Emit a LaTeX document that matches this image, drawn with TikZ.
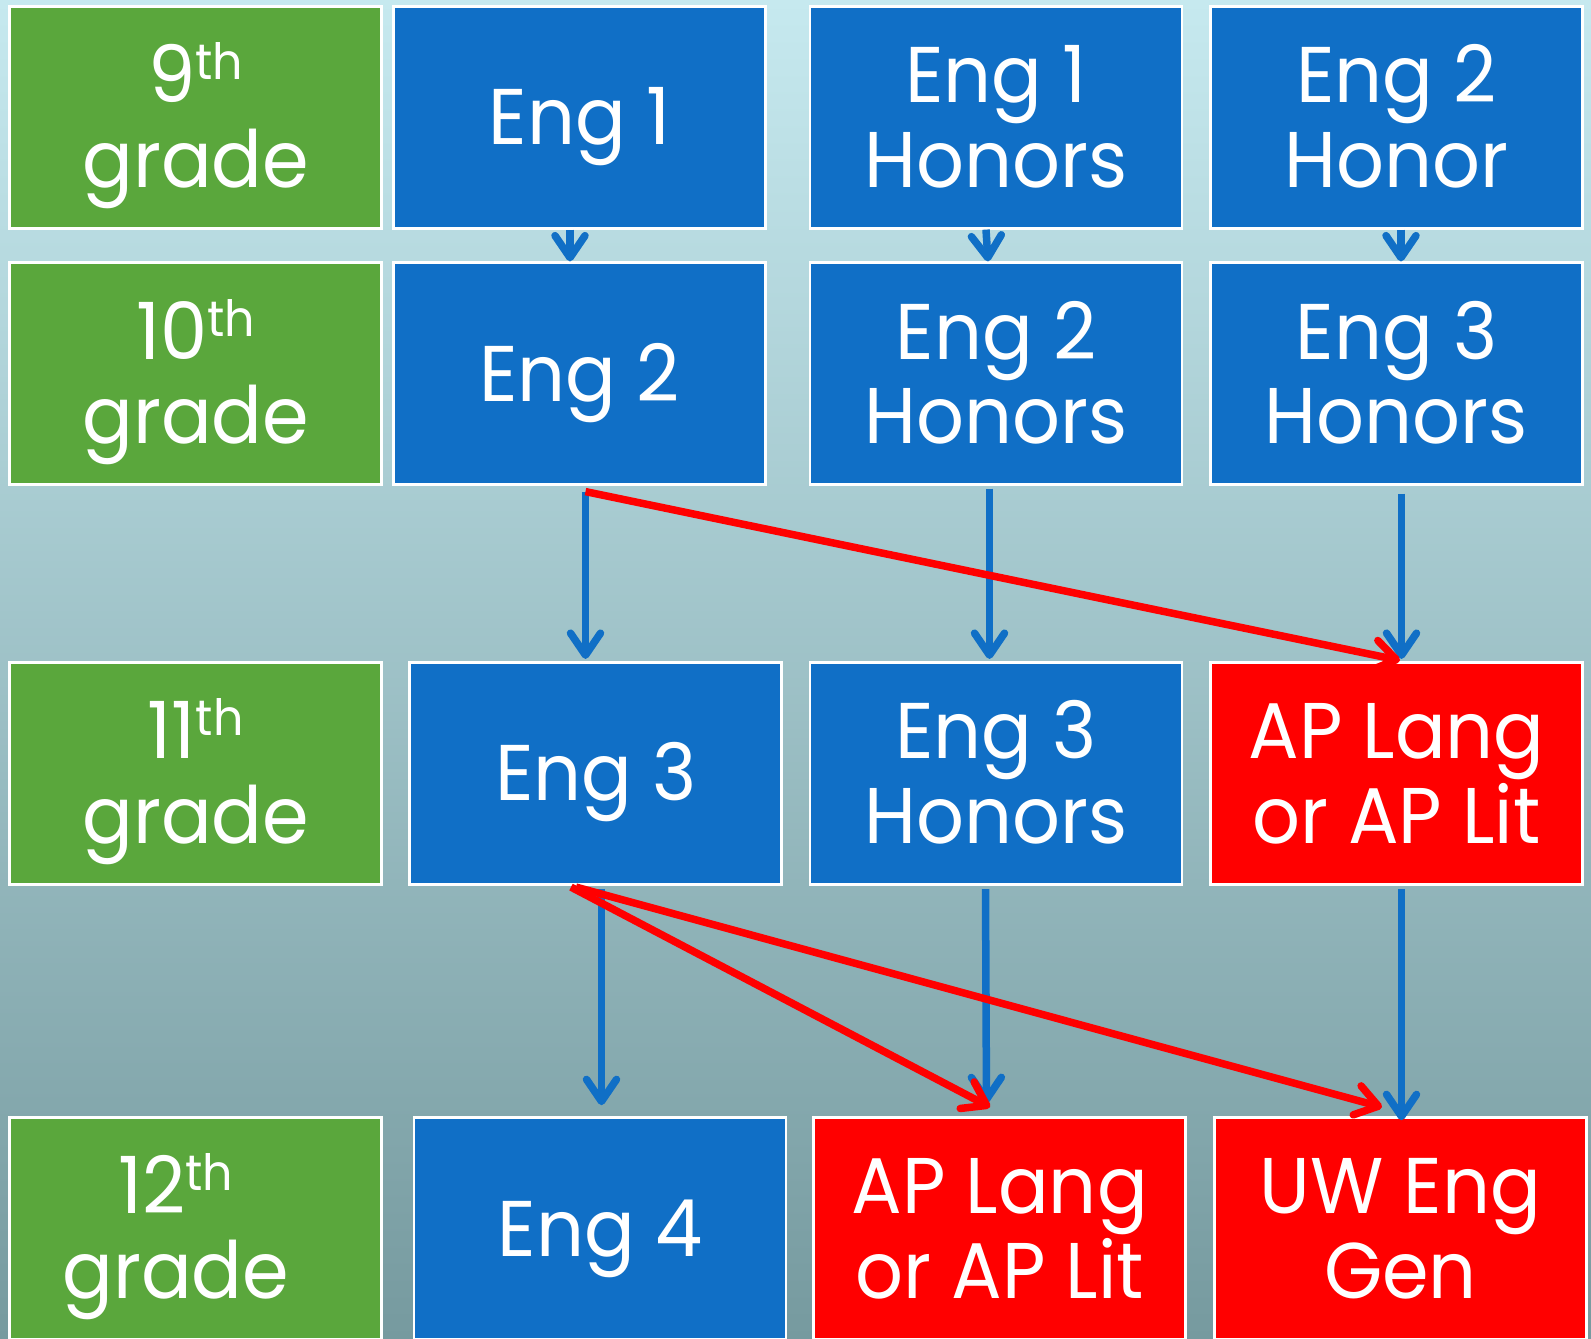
\documentclass[tikz,border=0pt]{standalone}
\usepackage{fontspec}
\setmainfont{Poppins}[FakeStretch=0.95]
\usetikzlibrary{arrows.meta}
\definecolor{bgtop}{RGB}{198,233,239}
\definecolor{bgmid}{RGB}{148,185,191}
\definecolor{bgbot}{RGB}{118,154,159}
\definecolor{boxblue}{RGB}{16,111,198}
\definecolor{boxgreen}{RGB}{90,167,60}
\definecolor{boxred}{RGB}{255,0,0}
\newcommand\oneline[1]{\raisebox{-27.5pt}{#1}}
\newcommand\twolines[2]{\raisebox{14.75pt}{\vtop{\tabskip=0pt\halign{\hfil##\hfil\cr#1\cr#2\cr}}}}
\newcommand\supth{\raisebox{23pt}{\fontsize{50pt}{50pt}\selectfont th}}
\tikzset{
  course/.style={rectangle, draw=white, line width=2.7pt, minimum width=372pt,
    minimum height=222pt, inner sep=0pt, text=white, text height=0pt, text depth=0pt,
    font=\fontsize{79pt}{84.5pt}\selectfont},
  bluebox/.style={course, fill=boxblue},
  greenbox/.style={course, fill=boxgreen},
  redbox/.style={course, fill=boxred},
  flow/.style={draw=boxblue, line width=7.5pt, -{Straight Barb[length=22pt,width=30pt,round]}},
  jump/.style={flow, draw=boxred}
}
\begin{document}
\begin{tikzpicture}[x=1pt, y=-1pt]
\clip (0,0) rectangle (1591,1339);
\shade[top color=bgtop, middle color=bgmid, bottom color=bgbot] (0,0) rectangle (1591,1339);
% row 1
\node[greenbox] (g9) at (195.75,117.25) {\twolines{9\supth}{grade}};
\node[bluebox] (e1) at (579.5,117.25) {\oneline{Eng 1}};
\node[bluebox] (e1h) at (996,117.25) {\twolines{Eng 1}{Honors}};
\node[bluebox] (e2hr) at (1396.5,117.25) {\twolines{Eng 2}{Honor}};
% row 2
\node[greenbox] (g10) at (195.75,373.75) {\twolines{10\supth}{grade}};
\node[bluebox] (e2) at (579.5,373.75) {\oneline{Eng 2}};
\node[bluebox] (e2h) at (996,373.75) {\twolines{Eng 2}{Honors}};
\node[bluebox] (e3h) at (1396.5,373.75) {\twolines{Eng 3}{Honors}};
% row 3
\node[greenbox] (g11) at (195.75,773.25) {\twolines{11\supth}{grade}};
\node[bluebox] (e3) at (595.75,773.25) {\oneline{Eng 3}};
\node[bluebox] (e3hb) at (996,773.25) {\twolines{Eng 3}{Honors}};
\node[redbox] (ap3) at (1396.5,773.25) {\twolines{AP Lang}{or AP Lit}};
% row 4
\node[greenbox] (g12) at (195.75,1228.5) {\twolines{12\supth}{grade}\rule{40pt}{0pt}};
\node[bluebox] (e4) at (600,1228.5) {\oneline{Eng 4}};
\node[redbox] (ap4) at (999.75,1228.5) {\twolines{AP Lang}{or AP Lit}};
\node[redbox] (uw) at (1400.5,1228.5) {\twolines{UW Eng}{Gen}};
% blue connectors
\draw[flow] ([xshift=-9.5pt]e1.south) -- ([xshift=-9.5pt]e2.north);
\draw[flow] ([xshift=-10pt]e1h.south) -- ([xshift=-8pt]e2h.north);
\draw[flow] ([xshift=4.5pt]e2hr.south) -- ([xshift=4.5pt]e3h.north);
\draw[flow] ([xshift=6pt,yshift=-5.5pt]e2.south) -- ([xshift=-10.25pt,yshift=2pt]e3.north);
\draw[flow] ([xshift=-6.5pt,yshift=-2.5pt]e2h.south) -- ([xshift=-6.5pt,yshift=2pt]e3hb.north);
\draw[flow] ([xshift=5pt,yshift=-7.5pt]e3h.south) -- ([xshift=5pt,yshift=2pt]ap3.north);
\draw[flow] ([xshift=5.75pt,yshift=-3.5pt]e3.south) -- ([xshift=1.5pt,yshift=11pt]e4.north);
\draw[flow] ([xshift=-10.5pt,yshift=-3.5pt]e3hb.south) -- ([xshift=-13.25pt,yshift=13pt]ap4.north);
\draw[flow] ([xshift=5pt,yshift=-3.5pt]ap3.south) -- ([xshift=1pt,yshift=-4pt]uw.north);
% red connectors
\draw[jump] ([xshift=6pt,yshift=-5.5pt]e2.south) -- ([xshift=3.5pt,yshift=0.5pt]ap3.north);
\draw[jump] ([xshift=-24.75pt,yshift=-1.5pt]e3.south) -- ([xshift=-9.75pt,yshift=9pt]ap4.north);
\draw[jump] ([xshift=-19.75pt,yshift=-1.5pt]e3.south) -- ([xshift=-18.5pt,yshift=9pt]uw.north);
\end{tikzpicture}
\end{document}
